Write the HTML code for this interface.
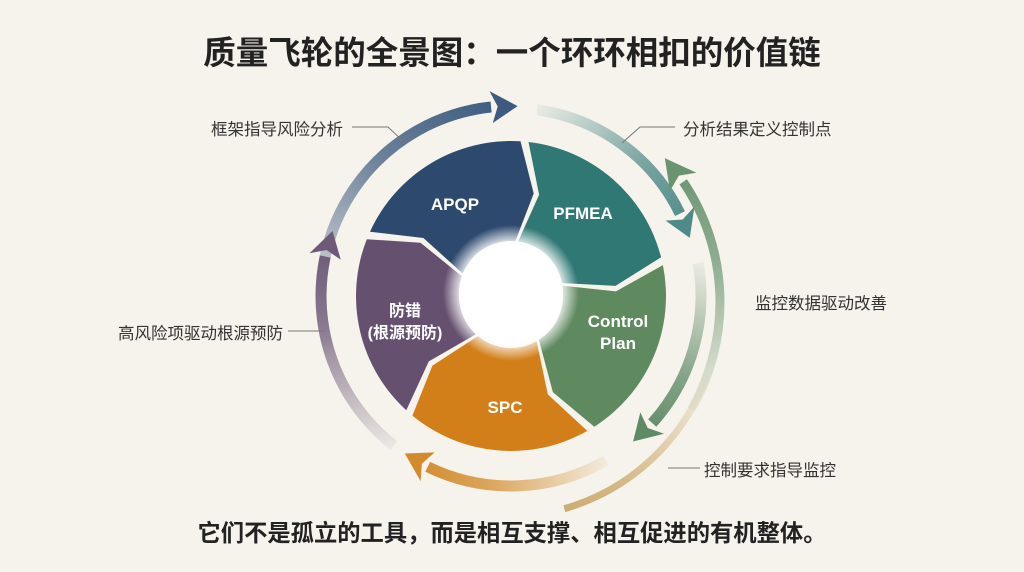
<!DOCTYPE html>
<html><head><meta charset="utf-8"><style>
html,body{margin:0;padding:0;background:#f6f3ec;}
body{width:1024px;height:572px;position:relative;overflow:hidden;font-family:"Liberation Sans","Noto Sans CJK SC",sans-serif;}
.t{position:absolute;left:0;width:1024px;text-align:center;font-weight:bold;color:#222;}
.l{position:absolute;font-size:16.5px;color:#333;white-space:nowrap;}
</style></head><body>
<div class="t" style="top:27px;font-size:32.5px;">质量飞轮的全景图：一个环环相扣的价值链</div>
<div class="t" style="top:514px;font-size:23.3px;">它们不是孤立的工具，而是相互支撑、相互促进的有机整体。</div>
<div class="l" style="left:211px;top:116px;">框架指导风险分析</div>
<div class="l" style="left:683px;top:116px;">分析结果定义控制点</div>
<div class="l" style="left:755px;top:290px;">监控数据驱动改善</div>
<div class="l" style="left:118px;top:320px;">高风险项驱动根源预防</div>
<div class="l" style="left:704px;top:457px;">控制要求指导监控</div>
<svg id="s" width="1024" height="572" style="position:absolute;left:0;top:0">
<defs>
<radialGradient id="hole" cx="0.5" cy="0.5" r="0.5">
<stop offset="0.7" stop-color="#fff"/><stop offset="1" stop-color="#fff" stop-opacity="0"/>
</radialGradient>
</defs>
<g id="g"></g>
</svg>
<script>
var cx=511,cy=296,g=document.getElementById('g'),NS='http://www.w3.org/2000/svg';
function P(r,a){a=a*Math.PI/180;return [cx+r*Math.cos(a),cy+r*Math.sin(a)];}
function f(p){return p[0].toFixed(1)+','+p[1].toFixed(1);}
function add(tag,at){var e=document.createElementNS(NS,tag);for(var k in at)e.setAttribute(k,at[k]);g.appendChild(e);return e;}
var ro=155,ri=52,rm=105,gap=1.5,ch=9;
var segs=[[-157,-85,'#2d4a6e'],[-85,-13,'#2f7874'],[-13,59,'#5f8a60'],[59,131,'#d27f1a'],[131,203,'#65506f']];
segs.forEach(function(s){
 var a0=s[0]+gap,a1=s[1]-gap;
 var d='M'+f(P(ri,a0))+' L'+f(P(rm,a0+ch))+' L'+f(P(ro,a0))+' A'+ro+','+ro+' 0 0 1 '+f(P(ro,a1))+' L'+f(P(rm,a1+ch))+' L'+f(P(ri,a1))+' A'+ri+','+ri+' 0 0 0 '+f(P(ri,a0))+'Z';
 add('path',{d:d,fill:s[2]});
});
add('circle',{cx:cx,cy:cy-3,r:68,fill:'url(#hole)'});
add('circle',{cx:cx,cy:cy-3,r:52,fill:'#fff'});
var id=0;
function arc(r,a0,a1,col,w,head,ccx,ccy){
 var ox=cx,oy=cy;if(ccx!==undefined){cx=ccx;cy=ccy;}
 var p0=P(r,a0),p1=P(r,a1);
 var gid='gr'+(id++);
 var lg=add('linearGradient',{id:gid,gradientUnits:'userSpaceOnUse',x1:p0[0],y1:p0[1],x2:p1[0],y2:p1[1]});
 lg.innerHTML='<stop offset="0" stop-color="'+col+'" stop-opacity="0.08"/><stop offset="0.6" stop-color="'+col+'" stop-opacity="0.75"/><stop offset="1" stop-color="'+col+'"/>';
 var sw=(a1>a0)?1:0,big=Math.abs(a1-a0)>180?1:0;
 var dir=a1>a0?1:-1,ae=a1-dir*6;
 add('path',{d:'M'+f(P(r,a0))+' A'+r+','+r+' 0 '+big+' '+sw+' '+f(P(r,ae)),fill:'none',stroke:'url(#'+gid+')','stroke-width':w});
 if(head){add('path',{d:'M'+f(P(r-16,ae))+' L'+f(P(r,a1+dir*2))+' L'+f(P(r+16,ae))+' L'+f(P(r,ae+dir*2))+'Z',fill:col});}
 cx=ox;cy=oy;
}
arc(190,165,270,'#3c5b7e',11,true);
arc(188,-82,-20,'#4f8a88',11,true);
arc(190,-10,48,'#5f8a66',11,true);
arc(215,30,-40,'#6a9470',9,true,505,302);
arc(215,20,80,'#c9a86a',7,false,505,302);
arc(190,60,122,'#d28a2a',11,true);
arc(190,128,198,'#6e5a78',11,true);
function ln(pts){add('polyline',{points:pts,fill:'none',stroke:'#777','stroke-width':1});}
ln('352,127 388,127 405,143');
ln('675,127 640,127 622,143');
ln('288,331 325,331');
ln('700,468 668,468');
function tx(x,y,t,sz){var e=add('text',{x:x,y:y,'text-anchor':'middle','font-size':sz,'font-weight':'bold',fill:'#fff','font-family':'Liberation Sans,Noto Sans CJK SC,sans-serif'});e.textContent=t;}
tx(455,210,'APQP',17);tx(583,219,'PFMEA',17);tx(618,327,'Control',17);tx(618,349,'Plan',17);tx(505,413,'SPC',17);
tx(405,316,'防错',16);tx(405,338,'(根源预防)',16);
</script>
</body></html>
